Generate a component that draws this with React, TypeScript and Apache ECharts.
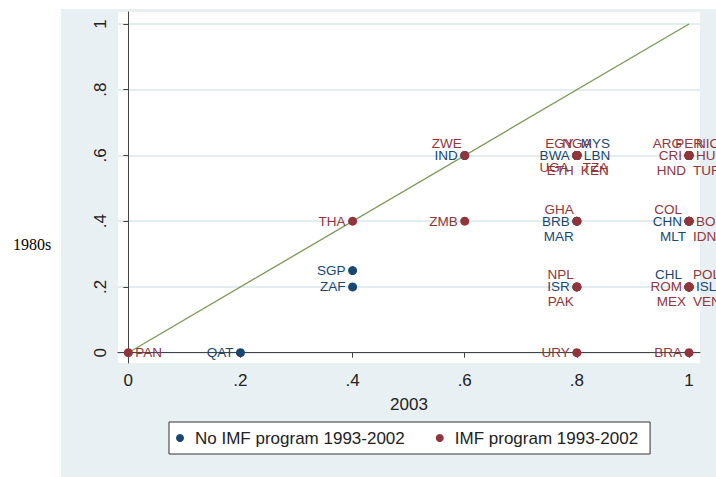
import React, { useEffect, useRef } from "react";
import * as echarts from "echarts";

// ---- Data ----
const codes = [
  "PAN", "QAT", "THA", "SGP", "ZAF", "ZWE", "IND", "ZMB",
  "EGY", "NGA", "MYS", "BWA", "LBN", "UGA", "ETH", "TZA", "KEN",
  "ARG", "PER", "NIC", "CRI", "HUN", "HND", "TUR",
  "GHA", "BRB", "MAR", "COL", "CHN", "MLT", "BOL", "IDN",
  "NPL", "ISR", "PAK", "CHL", "POL", "ROM", "ISL", "MEX", "VEN",
  "URY", "BRA",
];
const x2003 = [
  0, 0.2, 0.4, 0.4, 0.4, 0.6, 0.6, 0.6,
  0.8, 0.8, 0.8, 0.8, 0.8, 0.8, 0.8, 0.8, 0.8,
  1, 1, 1, 1, 1, 1, 1,
  0.8, 0.8, 0.8, 1, 1, 1, 1, 1,
  0.8, 0.8, 0.8, 1, 1, 1, 1, 1, 1,
  0.8, 1,
];
const y1980s = [
  0, 0, 0.4, 0.25, 0.2, 0.6, 0.6, 0.4,
  0.6, 0.6, 0.6, 0.6, 0.6, 0.6, 0.6, 0.6, 0.6,
  0.6, 0.6, 0.6, 0.6, 0.6, 0.6, 0.6,
  0.4, 0.4, 0.4, 0.4, 0.4, 0.4, 0.4, 0.4,
  0.2, 0.2, 0.2, 0.2, 0.2, 0.2, 0.2, 0.2, 0.2,
  0, 0,
];
// 1 = IMF program 1993-2002, 0 = no IMF program
const imfProgram = [
  1, 0, 1, 0, 0, 1, 0, 1,
  1, 1, 0, 0, 0, 1, 1, 1, 1,
  1, 1, 1, 1, 1, 1, 1,
  1, 0, 0, 1, 0, 0, 1, 1,
  1, 0, 1, 0, 1, 1, 0, 1, 1,
  1, 1,
];
// marker-label clock position (Stata mlabvposition)
const labelClock = [
  3, 9, 9, 9, 9, 11, 9, 9,
  11, 12, 1, 9, 3, 8, 7, 4, 5,
  10, 12, 2, 9, 3, 7, 5,
  11, 9, 7, 10, 9, 7, 3, 5,
  11, 9, 7, 10, 1, 9, 3, 7, 5,
  9, 9,
];
const tickValues = [0, 0.2, 0.4, 0.6, 0.8, 1];
const seriesNames = ["No IMF program 1993-2002", "IMF program 1993-2002"];
const diagonal = [[0, 0], [1, 1]];

const BLUE = "#1a476f";
const RED = "#90353b";
const FONT = "'Liberation Sans', Arial, Helvetica, sans-serif";

const clockOffsets: Record<number, [number, number, string]> = {
  12: [0, -12, "center"],
  1: [4, -12, "left"],
  2: [7, -12, "left"],
  3: [7, 0, "left"],
  4: [6, 12, "left"],
  5: [4, 15, "left"],
  6: [0, 14, "center"],
  7: [-3, 15, "right"],
  8: [-8, 12, "right"],
  9: [-7, 0, "right"],
  10: [-7, -12, "right"],
  11: [-3, -12, "right"],
};

function fmtTick(v: number): string {
  if (v === 0) return "0";
  if (v === 1) return "1";
  return String(Math.round(v * 10) / 10).replace(/^0/, "");
}

function buildData(flag: number, color: string) {
  const out: any[] = [];
  codes.forEach((c, i) => {
    if (imfProgram[i] !== flag) return;
    const [dx, dy, align] = clockOffsets[labelClock[i]];
    out.push({
      name: c,
      value: [x2003[i], y1980s[i]],
      label: {
        show: true,
        formatter: "{b}",
        position: ["50%", "50%"],
        offset: [dx, dy],
        align,
        verticalAlign: "middle",
        color,
        fontSize: 13.5,
        fontFamily: FONT,
      },
    });
  });
  return out;
}

export default function App() {
  const ref = useRef<HTMLDivElement>(null);
  useEffect(() => {
    if (!ref.current) return;
    const chart = echarts.init(ref.current, null, { renderer: "svg" });
    const axisCommon = {
      type: "value" as const,
      axisLine: { show: true, lineStyle: { color: "#444", width: 1 } },
      axisTick: {
        show: true,
        inside: false,
        length: 5,
        lineStyle: { color: "#444", width: 1 },
        customValues: tickValues,
      },
      axisLabel: {
        customValues: tickValues,
        formatter: fmtTick,
        color: "#222",
        fontSize: 17,
        fontFamily: FONT,
      },
    };
    chart.setOption({
      animation: false,
      graphic: [
        {
          type: "rect",
          z: -10,
          shape: { x: 61, y: 9, width: 655, height: 468 },
          style: { fill: "#e9f0f3" },
          silent: true,
        },
        {
          type: "text",
          left: 13,
          top: 236,
          style: {
            text: "1980s",
            font: "16px 'Liberation Serif', 'Times New Roman', serif",
            fill: "#000",
          },
        },
      ],
      grid: {
        left: 118,
        right: 16,
        top: 12,
        bottom: 114,
        show: true,
        backgroundColor: "#ffffff",
        borderWidth: 0,
        containLabel: false,
      },
      xAxis: {
        ...axisCommon,
        min: -0.0184,
        max: 1.0196,
        splitLine: { show: false },
        axisLabel: { ...axisCommon.axisLabel, margin: 9 },
        name: "2003",
        nameLocation: "middle",
        nameGap: 33,
        nameTextStyle: { color: "#222", fontSize: 17, fontFamily: FONT },
      },
      yAxis: {
        ...axisCommon,
        min: -0.0313,
        max: 1.0365,
        splitLine: {
          show: true,
          lineStyle: { color: "#e3edf0", width: 2 },
        },
        axisLabel: { ...axisCommon.axisLabel, rotate: 90, margin: 9 },
      },
      legend: {
        data: seriesNames,
        left: 169,
        top: 422,
        orient: "horizontal",
        backgroundColor: "#ffffff",
        borderColor: "#333",
        borderWidth: 1,
        borderRadius: 0,
        padding: [6, 12, 6, 7],
        itemGap: 31,
        itemWidth: 8,
        itemHeight: 8,
        icon: "circle",
        textStyle: {
          color: "#222",
          fontSize: 17,
          fontFamily: FONT,
          lineHeight: 20,
          padding: [0, 0, 0, 6],
        },
      },
      series: [
        {
          type: "line",
          data: diagonal,
          showSymbol: false,
          symbol: "none",
          lineStyle: { color: "#7a9855", width: 1.3 },
          z: 1,
          silent: true,
        },
        {
          name: seriesNames[0],
          type: "scatter",
          symbol: "circle",
          symbolSize: 9,
          itemStyle: { color: BLUE, opacity: 1 },
          data: buildData(0, BLUE),
          z: 2,
        },
        {
          name: seriesNames[1],
          type: "scatter",
          symbol: "circle",
          symbolSize: 9,
          itemStyle: { color: RED, opacity: 1 },
          data: buildData(1, RED),
          z: 3,
        },
      ],
    });
    return () => chart.dispose();
  }, []);
  return (
    <div
      ref={ref}
      style={{ position: "absolute", left: 0, top: 0, width: 716, height: 477 }}
    />
  );
}
